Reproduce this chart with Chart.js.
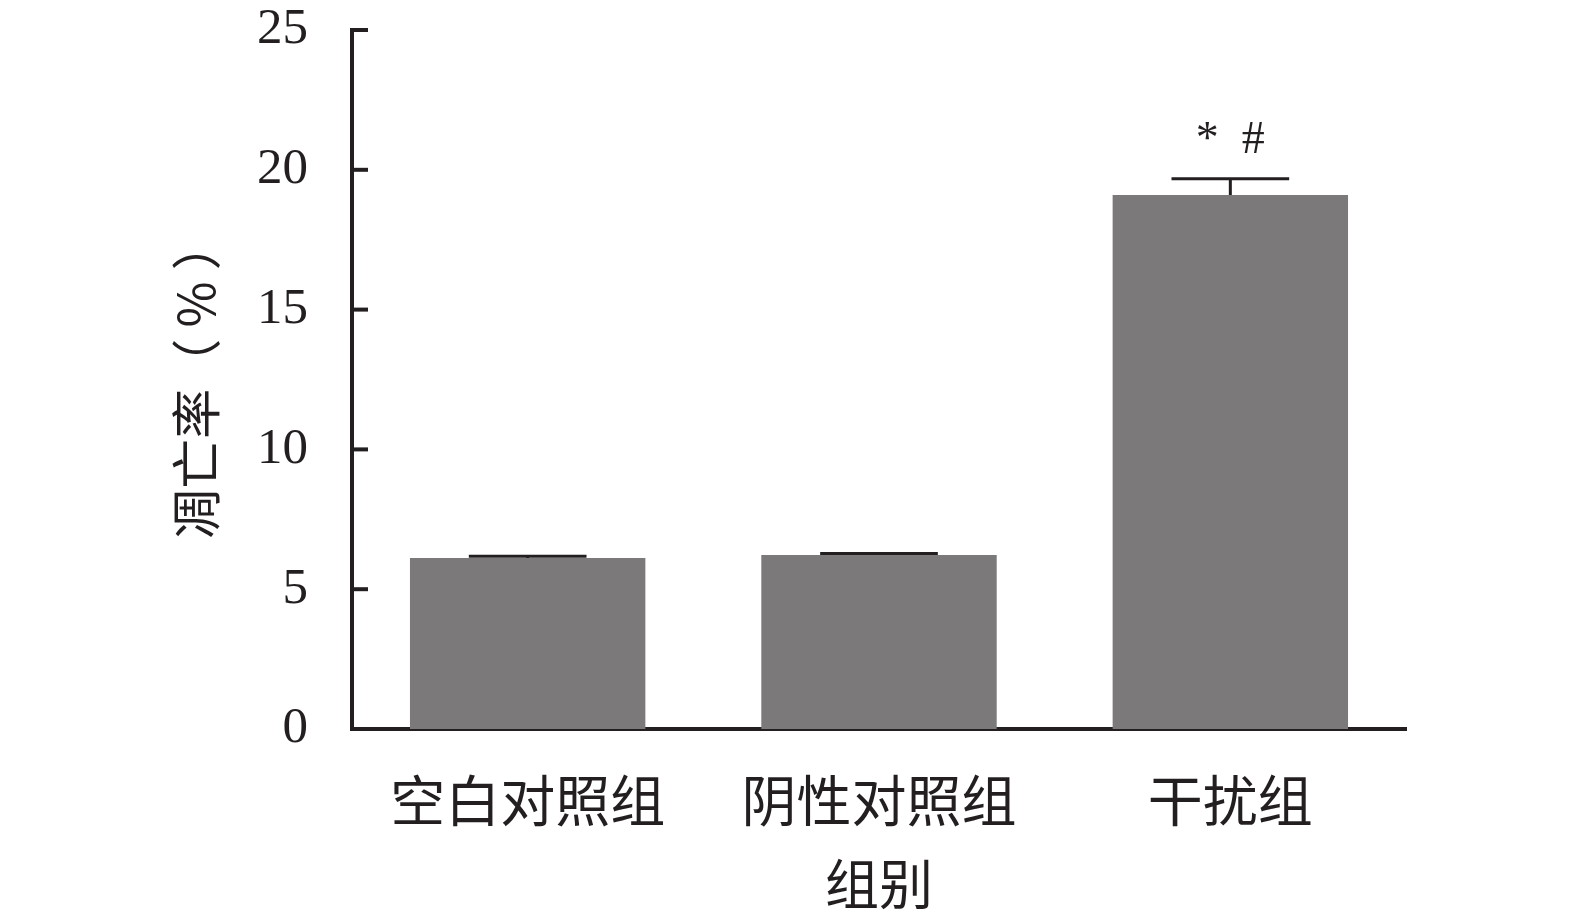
<!DOCTYPE html>
<html>
<head>
<meta charset="utf-8">
<script src="https://cdn.jsdelivr.net/npm/chart.js@4.4.1/dist/chart.umd.min.js"></script>
<style>
  html, body { margin: 0; padding: 0; background: #fff; }
  #myCanvas { display: block; }
</style>
</head>
<body>
<canvas id="myCanvas" width="1575" height="921"></canvas>
<script>
// data
var groups = ['空白对照组', '阴性对照组', '干扰组'];
var rates = [6.12, 6.22, 19.1];
var errs = [0.06, 0.06, 0.58];
var marks = ['', '', '*  #'];
var yTicks = [0, 5, 10, 15, 20, 25];

var ink = '#231f20';
var serif = '"Liberation Serif", "Noto Sans CJK SC", serif';
var cjk = '"Noto Sans CJK SC", "Liberation Serif", sans-serif';

// error bars (upper half only), significance marks and inward y ticks
var extras = {
  id: 'extras',
  afterDatasetsDraw: function(chart) {
    var ctx = chart.ctx;
    var y = chart.scales.y;
    var meta = chart.getDatasetMeta(0);
    ctx.save();
    ctx.strokeStyle = ink;
    ctx.lineWidth = 3;
    for (var i = 0; i < rates.length; i++) {
      var bar = meta.data[i];
      var cx = bar.x;
      var half = bar.width / 4;
      var top = y.getPixelForValue(rates[i] + errs[i]);
      var base = y.getPixelForValue(rates[i]);
      ctx.beginPath();
      ctx.moveTo(cx, base);
      ctx.lineTo(cx, top);
      ctx.moveTo(cx - half, top);
      ctx.lineTo(cx + half, top);
      ctx.stroke();
      if (marks[i]) {
        ctx.fillStyle = ink;
        ctx.font = '46px ' + serif;
        ctx.textAlign = 'center';
        ctx.textBaseline = 'middle';
        ctx.fillText(marks[i], cx, top - 38);
      }
    }
    ctx.lineWidth = 4;
    for (var k = 0; k < yTicks.length; k++) {
      var ty = y.getPixelForValue(yTicks[k]);
      ctx.beginPath();
      ctx.moveTo(chart.chartArea.left, ty);
      ctx.lineTo(chart.chartArea.left + 16, ty);
      ctx.stroke();
    }
    ctx.restore();
  }
};

var chardata = {
  labels: groups,
  datasets: [
    {
      data: rates,
      backgroundColor: '#7b797a',
      borderWidth: 0,
      barPercentage: 0.67,
      categoryPercentage: 1
    }
  ]
};

var ctx = document.getElementById('myCanvas');
var barGraph = new Chart(ctx, {
  type: 'bar',
  data: chardata,
  plugins: [extras],
  options: {
    responsive: false,
    animation: false,
    layout: { padding: { top: 30, right: 169, bottom: 0, left: 0 } },
    plugins: {
      legend: { display: false },
      tooltip: { enabled: false }
    },
    scales: {
      x: {
        grid: { display: false, drawTicks: false },
        border: { display: true, color: ink, width: 4 },
        ticks: {
          color: ink,
          padding: 38,
          font: { family: cjk, size: 55 }
        },
        title: {
          display: true,
          text: '组别',
          color: ink,
          font: { family: cjk, size: 54, lineHeight: 1 },
          padding: { top: 0, bottom: 10 }
        },
        afterFit: function(scale) {
          scale.height = 192;
          scale.paddingTop = 0;
          scale.paddingLeft = 0;
          scale.paddingRight = 0;
        }
      },
      y: {
        min: 0,
        max: 25,
        grid: { display: false, drawTicks: false },
        border: { display: true, color: ink, width: 4 },
        ticks: {
          stepSize: 5,
          color: ink,
          padding: 44,
          font: { family: serif, size: 51 }
        },
        title: {
          display: true,
          text: '凋亡率（ % ）',
          color: ink,
          font: { family: cjk, size: 50, lineHeight: 1 },
          padding: { top: 171, bottom: 0 }
        },
        afterFit: function(scale) {
          scale.width = 352;
          scale.paddingTop = 0;
          scale.paddingBottom = 0;
        }
      }
    }
  }
});
</script>
</body>
</html>
